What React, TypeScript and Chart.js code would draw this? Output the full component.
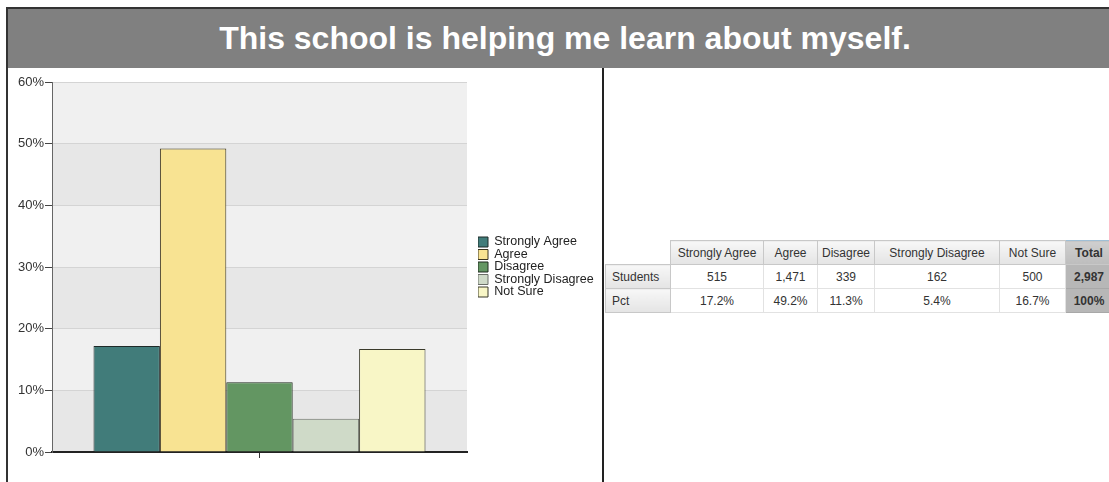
import React, { useEffect, useRef } from "react";
import { Chart, registerables } from "chart.js";

Chart.register(...registerables);

const TITLE = "This school is helping me learn about myself.";
const categories = ["Strongly Agree", "Agree", "Disagree", "Strongly Disagree", "Not Sure"];
const pctValues = [17.2, 49.2, 11.3, 5.4, 16.7];
const studentCounts = ["515", "1,471", "339", "162", "500"];
const pctLabels = ["17.2%", "49.2%", "11.3%", "5.4%", "16.7%"];
const totalStudents = "2,987";
const totalPct = "100%";
const yTicks = [0, 10, 20, 30, 40, 50, 60];

const barColors = ["#417c7a", "#f8e392", "#639662", "#cfdac8", "#f8f6c6"];
const barBorders = ["#1e2a28", "#3a3420", "#1e2a1e", "#6b6e68", "#3a3a2a"];

const FONT = "'Liberation Sans', Arial, Helvetica, sans-serif";

const bandPlugin = {
  id: "bands",
  beforeDraw(chart: any) {
    const { ctx, chartArea, scales } = chart;
    const y = scales.y;
    ctx.save();
    for (let i = 0; i < yTicks.length - 1; i++) {
      const top = y.getPixelForValue(yTicks[i + 1]);
      const bottom = y.getPixelForValue(yTicks[i]);
      ctx.fillStyle = i % 2 === 0 ? "#e7e7e7" : "#f0f0f0";
      ctx.fillRect(chartArea.left, top, chartArea.right - chartArea.left, bottom - top);
    }
    ctx.restore();
  },
};

function BarChart() {
  const ref = useRef<HTMLCanvasElement>(null);
  useEffect(() => {
    if (!ref.current) return;
    const chart = new Chart(ref.current, {
      type: "bar",
      data: {
        labels: [""],
        datasets: categories.map((c, i) => ({
          label: c,
          data: [pctValues[i]],
          backgroundColor: barColors[i],
          borderColor: barBorders[i],
          borderWidth: 1,
          categoryPercentage: 0.8,
          barPercentage: 1.0,
        })),
      },
      options: {
        animation: false,
        responsive: false,
        devicePixelRatio: 1,
        layout: { padding: { top: 13, left: 0, right: 0, bottom: 24 } },
        plugins: {
          tooltip: { enabled: false },
          legend: {
            position: "right",
            align: "center",
            fullSize: false,
            maxWidth: 125,
            labels: {
              boxWidth: 10,
              boxHeight: 10,
              padding: 0,
              color: "#222",
              font: { family: FONT, size: 12.5 },
            },
          },
        },
        scales: {
          x: {
            type: "category",
            grid: {
              display: true,
              drawOnChartArea: false,
              offset: false,
              tickLength: 6,
              tickColor: "#333",
            },
            border: { display: true, color: "#222", width: 2 },
            ticks: { display: false },
          },
          y: {
            min: 0,
            max: 60,
            ticks: {
              stepSize: 10,
              padding: 1,
              color: "#333",
              font: { family: FONT, size: 13 },
              callback: (v: any) => v + "%",
            },
            grid: { color: "#d4d4d4", tickLength: 7, tickColor: "#444" },
            border: { display: true, color: "#666", width: 1 },
            afterFit: (s: any) => {
              s.width = 44;
            },
          },
          y2: {
            position: "right",
            display: true,
            grid: { display: false },
            ticks: { display: false },
            border: { display: false },
            afterFit: (s: any) => {
              s.width = 11;
            },
          },
        },
      },
      plugins: [bandPlugin],
    } as any);
    return () => chart.destroy();
  }, []);
  return <canvas ref={ref} width={595} height={413} style={{ display: "block" }} />;
}

const colWidths = [65, 93, 54, 57, 125, 66, 47];

const headCell: React.CSSProperties = {
  background: "linear-gradient(#f7f7f7, #e4e4e4)",
  border: "1px solid #c8c8c8",
  fontWeight: "normal",
  textAlign: "center",
  color: "#333",
  padding: 0,
  height: 23,
};
const labelCell: React.CSSProperties = {
  ...headCell,
  textAlign: "left",
  paddingLeft: 6,
};
const dataCell: React.CSSProperties = {
  background: "#fff",
  border: "1px solid #e2e2e2",
  textAlign: "center",
  color: "#333",
  padding: 0,
  height: 23,
};
const totalCell: React.CSSProperties = {
  background: "#b7b7b7",
  border: "1px solid #a8a8a8",
  textAlign: "center",
  fontWeight: "bold",
  color: "#333",
  padding: 0,
  height: 23,
};

function DataTable() {
  return (
    <table
      style={{
        borderCollapse: "collapse",
        tableLayout: "fixed",
        fontFamily: FONT,
        fontSize: 12,
        width: colWidths.reduce((a, b) => a + b, 0),
      }}
    >
      <colgroup>
        {colWidths.map((w, i) => (
          <col key={i} style={{ width: w }} />
        ))}
      </colgroup>
      <thead>
        <tr>
          <th style={{ border: "none", background: "transparent" }}></th>
          {categories.map((c) => (
            <th key={c} style={headCell}>
              {c}
            </th>
          ))}
          <th
            style={{
              ...headCell,
              background: "linear-gradient(#cfcfcf, #bdbdbd)",
              borderTop: "1px solid #9fbfd6",
              fontWeight: "bold",
            }}
          >
            Total
          </th>
        </tr>
      </thead>
      <tbody>
        <tr>
          <td style={labelCell}>Students</td>
          {studentCounts.map((v, i) => (
            <td key={i} style={dataCell}>
              {v}
            </td>
          ))}
          <td style={totalCell}>{totalStudents}</td>
        </tr>
        <tr>
          <td style={labelCell}>Pct</td>
          {pctLabels.map((v, i) => (
            <td key={i} style={dataCell}>
              {v}
            </td>
          ))}
          <td style={totalCell}>{totalPct}</td>
        </tr>
      </tbody>
    </table>
  );
}

export default function App() {
  return (
    <div
      style={{
        position: "absolute",
        left: 0,
        top: 0,
        width: 1109,
        height: 482,
        overflow: "hidden",
        background: "#fff",
        fontFamily: FONT,
      }}
    >
      <div
        style={{
          position: "absolute",
          left: 6,
          top: 7,
          width: 1130,
          height: 500,
          borderTop: "2px solid #333",
          borderLeft: "2px solid #333",
        }}
      />
      <div
        style={{
          position: "absolute",
          left: 8,
          top: 9,
          width: 1114,
          height: 59,
          background: "#808080",
          color: "#fff",
          fontWeight: "bold",
          fontSize: 32,
          lineHeight: "59px",
          textAlign: "center",
          whiteSpace: "nowrap",
        }}
      >
        {TITLE}
      </div>
      <div style={{ position: "absolute", left: 8, top: 69 }}>
        <BarChart />
      </div>
      <div
        style={{
          position: "absolute",
          left: 602,
          top: 68,
          width: 2,
          height: 420,
          background: "#222",
        }}
      />
      <div style={{ position: "absolute", left: 605, top: 240 }}>
        <DataTable />
      </div>
    </div>
  );
}
